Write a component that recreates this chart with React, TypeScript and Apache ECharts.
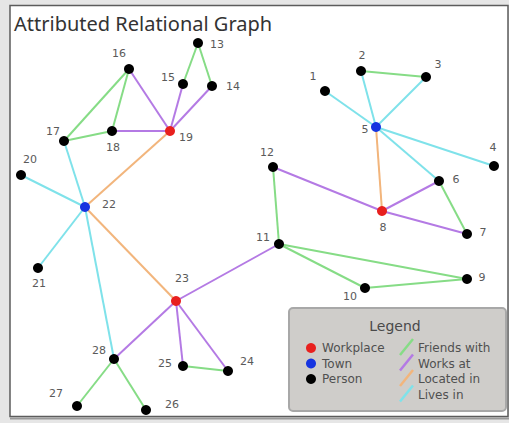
import React, { useEffect, useRef } from "react";
import * as echarts from "echarts";

const titleText = "Attributed Relational Graph";
const legendTitle = "Legend";

const nodeTypes = ["Workplace", "Town", "Person"];
const nodeTypeColors = ["#e8201e", "#1634e0", "#000000"];

const edgeTypes = ["Friends with", "Works at", "Located in", "Lives in"];
const edgeTypeColors = ["#86dc86", "#b47ae4", "#f2b57c", "#7fe2ea"];

const nodeNames = [
  "1", "2", "3", "4", "5", "6", "7", "8", "9", "10", "11", "12", "13", "14",
  "15", "16", "17", "18", "19", "20", "21", "22", "23", "24", "25", "26", "27", "28",
];
const nodeX = [325, 361, 426, 494, 376, 439, 467, 382, 467, 365, 279, 273, 198, 212, 183, 129, 64, 112, 170, 21, 38, 85, 176, 228, 183, 146, 77, 114];
const nodeY = [91, 71, 77, 166, 127, 181, 234, 211, 279, 288, 244, 167, 43, 86, 84, 69, 141, 131, 131, 175, 268, 207, 301, 371, 366, 410, 406, 359];
// 0 = Workplace, 1 = Town, 2 = Person
const nodeKind = [2, 2, 2, 2, 1, 2, 2, 0, 2, 2, 2, 2, 2, 2, 2, 2, 2, 2, 0, 2, 2, 1, 0, 2, 2, 2, 2, 2];

// edges: [source, target, edge type index]
const edgeSource = ["1", "2", "3", "4", "6", "20", "17", "21", "28", "2", "6", "12", "11", "11", "10", "13", "13", "16", "16", "17", "25", "28", "28", "12", "6", "7", "11", "28", "25", "24", "16", "18", "15", "14", "5", "22", "22"];
const edgeTarget = ["5", "5", "5", "5", "5", "22", "22", "22", "22", "3", "7", "11", "9", "10", "9", "15", "14", "17", "18", "18", "24", "27", "26", "8", "8", "8", "23", "23", "23", "23", "19", "19", "19", "19", "8", "19", "23"];
const edgeKind = [3, 3, 3, 3, 3, 3, 3, 3, 3, 0, 0, 0, 0, 0, 0, 0, 0, 0, 0, 0, 0, 0, 0, 1, 1, 1, 1, 1, 1, 1, 1, 1, 1, 1, 2, 2, 2];

// label placement (layout config)
const labelOffset: Record<string, [number, number]> = {
  "1": [-12, -15], "2": [1, -16], "3": [12, -13], "4": [-1, -19], "5": [-11, 2],
  "6": [17, -2], "7": [16, -2], "8": [1, 16], "9": [15, -2], "10": [-15, 8],
  "11": [-16, -7], "12": [-6, -15], "13": [19, 1], "14": [21, 0], "15": [-15, -7],
  "16": [-10, -16], "17": [-11, -10], "18": [1, 16], "19": [16, 6], "20": [9, -16],
  "21": [1, 15], "22": [24, -3], "23": [6, -23], "24": [19, -10], "25": [-18, -3],
  "26": [26, -6], "27": [-21, -13], "28": [-15, -9],
};

export default function App() {
  const ref = useRef<HTMLDivElement>(null);
  useEffect(() => {
    document.body.style.margin = "0";
    const chart = echarts.init(ref.current!, null, { renderer: "svg" });
    const font = "DejaVu Sans";

    const nodes = nodeNames.map((n, i) => ({
      name: n,
      value: [nodeX[i], nodeY[i]],
      itemStyle: { color: nodeTypeColors[nodeKind[i]] },
      label: { offset: labelOffset[n] || [0, 0] },
    }));
    const links = edgeSource.map((s, i) => ({
      source: s,
      target: edgeTarget[i],
      lineStyle: { color: edgeTypeColors[edgeKind[i]], width: 2, opacity: 1 },
    }));

    const lx = 289, ly = 308, lw = 217, lh = 103;
    const legendEls: any[] = [
      {
        type: "rect",
        shape: { x: lx, y: ly, width: lw, height: lh, r: 4 },
        style: { fill: "#cfcdca", stroke: "#a8a8a8", lineWidth: 2 },
        z: 10,
      },
      {
        type: "text",
        x: 395, y: 326,
        style: { text: legendTitle, font: `14px "${font}"`, fill: "#4a4a4a", align: "center", verticalAlign: "middle" },
        z: 11,
      },
    ];
    nodeTypes.forEach((t, i) => {
      const y = 348 + i * 15.5;
      legendEls.push({
        type: "circle",
        shape: { cx: 311, cy: y, r: 5 },
        style: { fill: nodeTypeColors[i] },
        z: 11,
      });
      legendEls.push({
        type: "text",
        x: 322, y,
        style: { text: t, font: `12px "${font}"`, fill: "#505050", verticalAlign: "middle" },
        z: 11,
      });
    });
    edgeTypes.forEach((t, i) => {
      const y = 348 + i * 15.5;
      legendEls.push({
        type: "line",
        shape: { x1: 400, y1: y + 7, x2: 413, y2: y - 9 },
        style: { stroke: edgeTypeColors[i], lineWidth: 2.5 },
        z: 11,
      });
      legendEls.push({
        type: "text",
        x: 418, y,
        style: { text: t, font: `12px "${font}"`, fill: "#505050", verticalAlign: "middle" },
        z: 11,
      });
    });

    chart.setOption({
      animation: false,
      backgroundColor: "#e6e6e6",
      grid: { left: 0, right: 0, top: 0, bottom: 0 },
      xAxis: { type: "value", min: 0, max: 509, show: false },
      yAxis: { type: "value", min: 0, max: 423, inverse: true, show: false },
      graphic: [
        {
          type: "rect",
          shape: { x: 10, y: 5.5, width: 498, height: 411 },
          style: { fill: "#ffffff", stroke: "#5c5c5c", lineWidth: 1.5 },
          z: 0,
        },
        {
          type: "line",
          shape: { x1: 10, y1: 418.5, x2: 509, y2: 418.5 },
          style: { stroke: "#9a9a9a", lineWidth: 2 },
          z: 0,
        },
        {
          type: "text",
          x: 14, y: 23,
          style: { text: titleText, font: `20px "Noto Sans"`, fill: "#333333", verticalAlign: "middle" },
          z: 5,
        },
        ...legendEls,
      ],
      series: [
        {
          type: "graph",
          coordinateSystem: "cartesian2d",
          layout: "none",
          symbol: "circle",
          symbolSize: 10,
          data: nodes,
          links,
          edgeSymbol: ["none", "none"],
          label: {
            show: true,
            position: "inside",
            formatter: "{b}",
            color: "#5a5a5a",
            fontFamily: font,
            fontSize: 11,
            align: "center",
            verticalAlign: "middle",
          },
          emphasis: { disabled: true },
          z: 3,
        },
      ],
    });
    return () => chart.dispose();
  }, []);
  return <div ref={ref} style={{ position: "fixed", left: 0, top: 0, width: 509, height: 423 }} />;
}
